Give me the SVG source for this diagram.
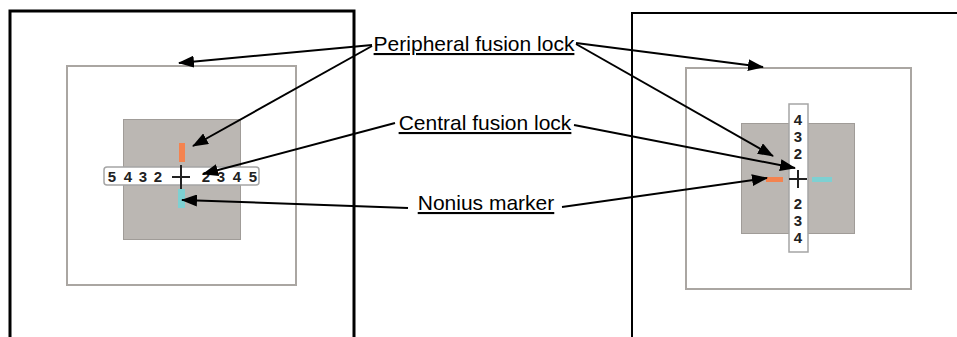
<svg xmlns="http://www.w3.org/2000/svg" width="957" height="337" viewBox="0 0 957 337">
<defs>
<marker id="ah" markerUnits="userSpaceOnUse" markerWidth="16" markerHeight="12" refX="15" refY="6" orient="auto">
<path d="M0,0 L16,6 L0,12 z" fill="#000"/>
</marker>
<style>
.frame{fill:none;stroke:#000}
.inner{fill:#fff;stroke:#aaa6a2;stroke-width:2}
.gray{fill:#bbb7b3;stroke:#a09c98;stroke-width:1}
.strip{fill:#fff;stroke:#a5a5a5;stroke-width:1.5}
.num{font-family:"Liberation Sans",Arial,sans-serif;font-weight:bold;font-size:15px;fill:#222;text-anchor:middle}
.cross{stroke:#222;stroke-width:2;fill:none}
.lbl{font-family:"Liberation Sans",Arial,sans-serif;font-size:21px;fill:#000;text-anchor:middle;text-decoration:underline}
.conn{stroke:#000;stroke-width:2;fill:none;marker-end:url(#ah)}
</style>
</defs>
<rect width="957" height="337" fill="#fff"/>
<g id="left-panel">
<path class="frame" stroke-width="3" d="M10,340 V11 H354 V340"/>
<rect class="inner" x="67" y="66" width="229" height="219"/>
<rect class="gray" x="123.5" y="119.5" width="117" height="120"/>
<rect x="179" y="143" width="6" height="19" fill="#f4834f"/>
<rect x="178" y="189" width="7" height="19" fill="#7ed0d2"/>
<rect class="strip" x="104" y="167" width="155" height="18" rx="3"/>
<text class="num" x="112" y="181.5">5</text>
<text class="num" x="128" y="181.5">4</text>
<text class="num" x="143" y="181.5">3</text>
<text class="num" x="158" y="181.5">2</text>
<text class="num" x="206" y="181.5">2</text>
<text class="num" x="221" y="181.5">3</text>
<text class="num" x="237" y="181.5">4</text>
<text class="num" x="253" y="181.5">5</text>
<path class="cross" d="M181,165 V189 M172,177 H190"/>
</g>
<g id="right-panel">
<path class="frame" stroke-width="2" d="M632,340 V13 H960"/>
<rect class="inner" x="686" y="68" width="225" height="221"/>
<rect class="gray" x="741.5" y="123.5" width="113" height="110"/>
<rect class="strip" x="789" y="104" width="19" height="148"/>
<text class="num" x="798" y="125">4</text>
<text class="num" x="798" y="142">3</text>
<text class="num" x="798" y="159">2</text>
<text class="num" x="798" y="209">2</text>
<text class="num" x="798" y="226">3</text>
<text class="num" x="798" y="243">4</text>
<rect x="766" y="177" width="17" height="5" fill="#f4834f"/>
<rect x="812" y="177" width="20" height="5" fill="#7ed0d2"/>
<path class="cross" d="M798,170 V188 M789,179 H807"/>
</g>
<g id="label-peripheral"><text class="lbl" x="474" y="51">Peripheral fusion lock</text></g>
<g id="label-central"><text class="lbl" x="485" y="130">Central fusion lock</text></g>
<g id="label-nonius"><text class="lbl" x="486" y="210">Nonius marker</text></g>
<g id="connectors">
<path class="conn" d="M372,45 L179,63"/>
<path class="conn" d="M372,46 L193,146"/>
<path class="conn" d="M395,123 L203,174"/>
<path class="conn" d="M408,208 L182,200"/>
<path class="conn" d="M576,43 L763,67"/>
<path class="conn" d="M576,44 L773,156"/>
<path class="conn" d="M574,125 L795,168"/>
<path class="conn" d="M562,207 L767,178"/>
</g>
</svg>
